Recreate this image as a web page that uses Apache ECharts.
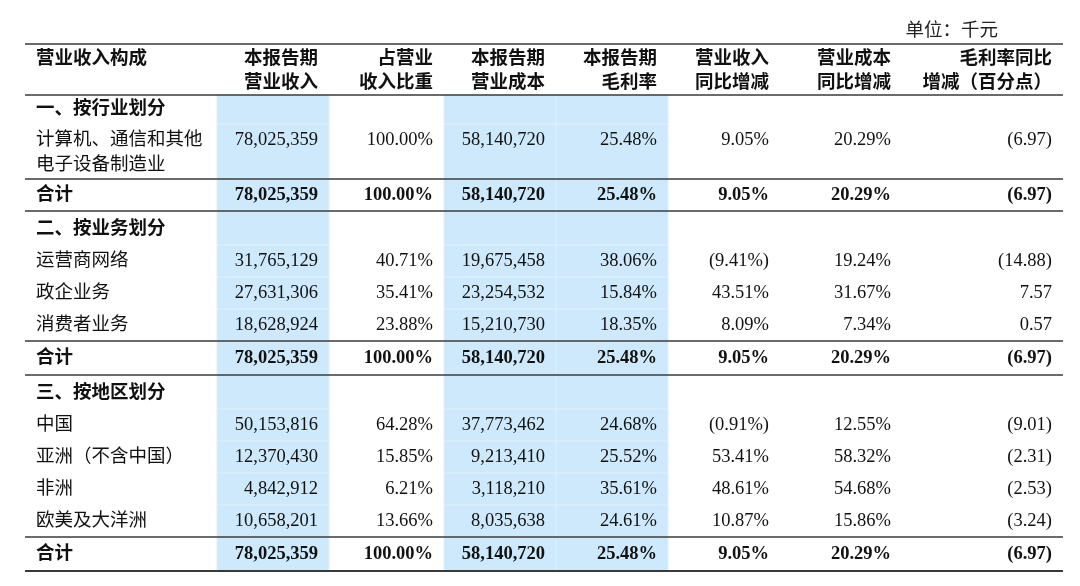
<!DOCTYPE html>
<html>
<head>
<meta charset="utf-8">
<title>营业收入构成</title>
<script src="https://cdn.jsdelivr.net/npm/echarts@6/dist/echarts.min.js"></script>
<style>
  html, body { margin: 0; background: #fff; }
  #chart { width: 1080px; height: 586px; }
</style>
</head>
<body>
<div id="chart"></div>
<script>
// ---- table content ----
const unitNote = '单位：千元';
const headerTop = ['营业收入构成', '本报告期', '占营业', '本报告期', '本报告期', '营业收入', '营业成本', '毛利率同比'];
const headerBottom = ['', '营业收入', '收入比重', '营业成本', '毛利率', '同比增减', '同比增减', '增减（百分点）'];
const sectionTitles = ['一、按行业划分', '二、按业务划分', '三、按地区划分'];
const totalLabel = '合计';

const industryNames = ['计算机、通信和其他\n电子设备制造业'];
const industryRevenue = [78025359];
const industryShare = [100.00];
const industryCost = [58140720];
const industryMargin = [25.48];
const industryRevYoY = [9.05];
const industryCostYoY = [20.29];
const industryMarginChg = [-6.97];

const businessNames = ['运营商网络', '政企业务', '消费者业务'];
const businessRevenue = [31765129, 27631306, 18628924];
const businessShare = [40.71, 35.41, 23.88];
const businessCost = [19675458, 23254532, 15210730];
const businessMargin = [38.06, 15.84, 18.35];
const businessRevYoY = [-9.41, 43.51, 8.09];
const businessCostYoY = [19.24, 31.67, 7.34];
const businessMarginChg = [-14.88, 7.57, 0.57];

const regionNames = ['中国', '亚洲（不含中国）', '非洲', '欧美及大洋洲'];
const regionRevenue = [50153816, 12370430, 4842912, 10658201];
const regionShare = [64.28, 15.85, 6.21, 13.66];
const regionCost = [37773462, 9213410, 3118210, 8035638];
const regionMargin = [24.68, 25.52, 35.61, 24.61];
const regionRevYoY = [-0.91, 53.41, 48.61, 10.87];
const regionCostYoY = [12.55, 58.32, 54.68, 15.86];
const regionMarginChg = [-9.01, -2.31, -2.53, -3.24];

const totalValues = [78025359, 100.00, 58140720, 25.48, 9.05, 20.29, -6.97];

// ---- layout ----
const colEdges = [25, 217, 329, 444, 556, 668, 780, 902, 1063];
const blueCols = [1, 3, 4];
const pad = 11;
const tableTop = 44;
const headerH = 51;
const sectionH = [29, 34, 34];
const rowH = 32;
const twoLineH = 55;
const totalH = [32, 34, 34];
const FONT = "'Liberation Serif', 'Noto Sans CJK SC', serif";
const SIZE = 18.5;

const fmtAmount = v => v.toLocaleString('en-US');
const fmtPct = v => v < 0 ? '(' + Math.abs(v).toFixed(2) + '%)' : v.toFixed(2) + '%';
const fmtPts = v => v < 0 ? '(' + Math.abs(v).toFixed(2) + ')' : v.toFixed(2);
const formatters = [fmtAmount, fmtPct, fmtAmount, fmtPct, fmtPct, fmtPct, fmtPts];

const sections = [
  [industryNames, industryRevenue, industryShare, industryCost, industryMargin, industryRevYoY, industryCostYoY, industryMarginChg],
  [businessNames, businessRevenue, businessShare, businessCost, businessMargin, businessRevYoY, businessCostYoY, businessMarginChg],
  [regionNames, regionRevenue, regionShare, regionCost, regionMargin, regionRevYoY, regionCostYoY, regionMarginChg]
];

const cells = [];   // text items
const bands = [];   // blue cell backgrounds
const rules = [];   // horizontal lines

function addText(col, y, text, bold, lineHeight) {
  const align = col === 0 ? 'left' : 'right';
  const x = col === 0 ? colEdges[0] + pad : colEdges[col + 1] - pad;
  cells.push({ x: x, y: y, text: text, align: align, bold: bold, lineHeight: lineHeight || SIZE });
}
function addBands(y0, y1) {
  blueCols.forEach(c => bands.push([colEdges[c], colEdges[c + 1], y0, y1]));
}

let y = tableTop;
rules.push([colEdges[0], colEdges[8], y, 1.5]);
headerTop.forEach((t, i) => {
  addText(i, y + 15, t, true);
  if (headerBottom[i]) addText(i, y + 39, headerBottom[i], true);
});
y += headerH;
rules.push([colEdges[0], colEdges[8], y, 1.5]);

sections.forEach((sec, s) => {
  addBands(y, y + sectionH[s]);
  addText(0, y + sectionH[s] / 2 + (s === 0 ? 0 : 1), sectionTitles[s], true);
  y += sectionH[s];
  sec[0].forEach((name, r) => {
    const two = name.indexOf('\n') >= 0;
    const h = two ? twoLineH : rowH;
    addBands(y, y + h);
    if (two) {
      addText(0, y + h / 2 + 1, name, false, 25);
      for (let c = 1; c < 8; c++) addText(c, y + 16, formatters[c - 1](sec[c][r]), false);
    } else {
      addText(0, y + h / 2, name, false);
      for (let c = 1; c < 8; c++) addText(c, y + h / 2, formatters[c - 1](sec[c][r]), false);
    }
    y += h;
  });
  rules.push([colEdges[0], colEdges[8], y, 1.5]);
  addBands(y, y + totalH[s]);
  addText(0, y + totalH[s] / 2, totalLabel, true);
  totalValues.forEach((v, c) => addText(c + 1, y + totalH[s] / 2, formatters[c](v), true));
  y += totalH[s];
  rules.push([colEdges[0], colEdges[8], y, s === 2 ? 2 : 1.5]);
});

const chart = echarts.init(document.getElementById('chart'));

const option = {
  backgroundColor: '#fff',
  animation: false,
  grid: { left: 0, right: 0, top: 0, bottom: 0 },
  xAxis: { type: 'value', min: 0, max: 1080, show: false },
  yAxis: { type: 'value', min: 0, max: 586, inverse: true, show: false },
  graphic: [{
    type: 'text',
    right: 1080 - 998,
    top: 22,
    style: { text: unitNote, font: SIZE + 'px ' + FONT, fill: '#222' }
  }],
  series: [
    {
      name: 'bands',
      type: 'custom',
      clip: false,
      silent: true,
      data: bands,
      renderItem: (params, api) => {
        const p0 = api.coord([api.value(0), api.value(2)]);
        const p1 = api.coord([api.value(1), api.value(3)]);
        return {
          type: 'rect',
          shape: { x: p0[0], y: p0[1], width: p1[0] - p0[0], height: p1[1] - p0[1] },
          style: { fill: '#cde9fb', stroke: '#ddf0fd', lineWidth: 1 }
        };
      }
    },
    {
      name: 'rules',
      type: 'custom',
      clip: false,
      silent: true,
      data: rules,
      renderItem: (params, api) => {
        const p0 = api.coord([api.value(0), api.value(2)]);
        const p1 = api.coord([api.value(1), api.value(2)]);
        return {
          type: 'line',
          shape: { x1: p0[0], y1: p0[1], x2: p1[0], y2: p1[1] },
          style: { stroke: '#3a3a3a', lineWidth: api.value(3) }
        };
      }
    },
    {
      name: 'cells',
      type: 'custom',
      clip: false,
      silent: true,
      data: cells.map(c => [c.x, c.y]),
      renderItem: (params, api) => {
        const c = cells[params.dataIndex];
        const p = api.coord([api.value(0), api.value(1)]);
        return {
          type: 'text',
          style: {
            text: c.text,
            x: p[0],
            y: p[1],
            align: c.align,
            verticalAlign: 'middle',
            lineHeight: c.lineHeight,
            font: (c.bold ? 'bold ' : '') + SIZE + 'px ' + FONT,
            fill: '#111'
          }
        };
      }
    }
  ]
};

chart.setOption(option);
</script>
</body>
</html>
